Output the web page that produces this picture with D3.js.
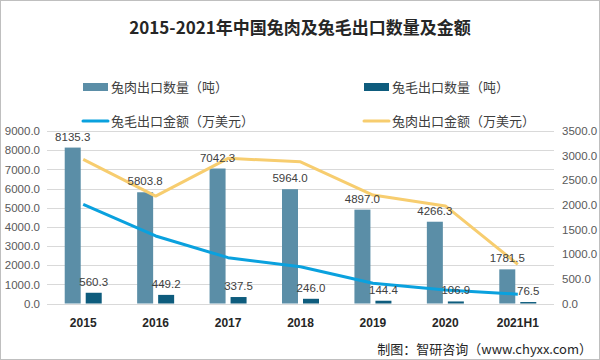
<!DOCTYPE html>
<html><head><meta charset="utf-8">
<script src="https://cdn.jsdelivr.net/npm/d3@7"></script>
<style>body{margin:0;background:#fff}svg{display:block}</style>
</head><body>
<script>
const categories = ["2015","2016","2017","2018","2019","2020","2021H1"];
const meatQty = [8135.3,5803.8,7042.3,5964.0,4897.0,4266.3,1781.5];
const woolQty = [560.3,449.2,337.5,246.0,144.4,106.9,76.5];
const woolAmt = [2010,1370,930,745,410,275,190];
const meatAmt = [2925,2180,2945,2875,2200,1980,795];
const leftTicks = [0,1000,2000,3000,4000,5000,6000,7000,8000,9000];
const rightTicks = [0,500,1000,1500,2000,2500,3000,3500];

const W=600,H=360;
const svg=d3.select("body").append("svg").attr("width",W).attr("height",H);
svg.append("rect").attr("x",0.5).attr("y",0.5).attr("width",W-1).attr("height",H-1).attr("fill","#fff").attr("stroke","#bfbfbf");
const font="'Liberation Sans','Noto Sans CJK SC',sans-serif";

const x=d3.scaleBand().domain(categories).range([47,554]);
const yL=d3.scaleLinear().domain([0,9000]).range([303.5,131]);
const yR=d3.scaleLinear().domain([0,3500]).range([303.5,131]);

svg.append("g").selectAll("line").data(leftTicks).join("line")
 .attr("x1",47).attr("x2",554).attr("y1",d=>Math.round(yL(d))+0.5).attr("y2",d=>Math.round(yL(d))+0.5)
 .attr("stroke","#d9d9d9");

const gl=svg.append("g").attr("transform","translate(40,0)")
 .call(d3.axisLeft(yL).tickValues(leftTicks).tickFormat(d=>d.toFixed(1)).tickSize(0).tickPadding(0));
gl.select(".domain").remove();
gl.selectAll("text").attr("font-family",font).attr("font-size",11.5).attr("fill","#595959");
const gr=svg.append("g").attr("transform","translate(562,0)")
 .call(d3.axisRight(yR).tickValues(rightTicks).tickFormat(d=>d.toFixed(1)).tickSize(0).tickPadding(0));
gr.select(".domain").remove();
gr.selectAll("text").attr("font-family",font).attr("font-size",11.5).attr("fill","#595959");

const gx=svg.append("g").attr("transform","translate(0,312)")
 .call(d3.axisBottom(x).tickSize(0).tickPadding(6));
gx.select(".domain").remove();
gx.selectAll("text").attr("font-family","'Liberation Sans',sans-serif").attr("font-size",12).attr("font-weight","bold").attr("fill","#262626");

const bw=16, gap=5;
const cx=c=>x(c)+x.bandwidth()/2;
svg.append("g").selectAll("rect").data(categories).join("rect")
 .attr("x",c=>cx(c)-gap/2-bw).attr("width",bw)
 .attr("y",(c,i)=>yL(meatQty[i])).attr("height",(c,i)=>yL(0)-yL(meatQty[i])).attr("fill","#5b8ea7");
svg.append("g").selectAll("rect").data(categories).join("rect")
 .attr("x",c=>cx(c)+gap/2).attr("width",bw)
 .attr("y",(c,i)=>yL(woolQty[i])).attr("height",(c,i)=>yL(0)-yL(woolQty[i])).attr("fill","#0e5c7d");

const line=d3.line().x(d=>cx(d.c)).y(d=>yR(d.v));
svg.append("path").datum(categories.map((c,i)=>({c,v:meatAmt[i]}))).attr("d",line)
 .attr("fill","none").attr("stroke","#f7cd6f").attr("stroke-width",3).attr("stroke-linejoin","round");
svg.append("path").datum(categories.map((c,i)=>({c,v:woolAmt[i]}))).attr("d",line)
 .attr("fill","none").attr("stroke","#0aa1de").attr("stroke-width",3).attr("stroke-linejoin","round");

svg.append("g").selectAll("text").data(categories).join("text")
 .attr("x",c=>cx(c)-gap/2-bw/2).attr("y",(c,i)=>yL(meatQty[i])-7)
 .attr("text-anchor","middle").attr("font-family",font).attr("font-size",11.5).attr("fill","#404040")
 .text((c,i)=>meatQty[i].toFixed(1));
svg.append("g").selectAll("text").data(categories).join("text")
 .attr("x",c=>cx(c)+gap/2+bw/2).attr("y",(c,i)=>yL(woolQty[i])-7)
 .attr("text-anchor","middle").attr("font-family",font).attr("font-size",11.5).attr("fill","#404040")
 .text((c,i)=>woolQty[i].toFixed(1));

svg.append("text").attr("x",300).attr("y",34).attr("text-anchor","middle")
 .attr("font-family","'Noto Sans CJK SC',sans-serif").attr("font-weight","bold").attr("font-size",17).attr("fill","#262626")
 .text("2015-2021年中国兔肉及兔毛出口数量及金额");

const leg=[
 {t:"兔肉出口数量（吨）",x:83,y:87,type:"bar",c:"#5b8ea7"},
 {t:"兔毛出口数量（吨）",x:364,y:87,type:"bar",c:"#0e5c7d"},
 {t:"兔毛出口金额（万美元）",x:83,y:121,type:"line",c:"#0aa1de"},
 {t:"兔肉出口金额（万美元）",x:364,y:121,type:"line",c:"#f7cd6f"}];
leg.forEach(l=>{
 if(l.type==="bar") svg.append("rect").attr("x",l.x).attr("y",l.y-4).attr("width",25).attr("height",8).attr("fill",l.c);
 else svg.append("line").attr("x1",l.x).attr("x2",l.x+25).attr("y1",l.y).attr("y2",l.y).attr("stroke",l.c).attr("stroke-width",3).attr("stroke-linecap","round");
 svg.append("text").attr("x",l.x+28).attr("y",l.y+5).attr("font-family","'Noto Sans CJK SC',sans-serif").attr("font-size",13).attr("fill","#404040").text(l.t);
});

svg.append("text").attr("x",592).attr("y",354).attr("text-anchor","end")
 .attr("font-family","'Noto Sans CJK SC',sans-serif").attr("font-size",13).attr("fill","#262626")
 .text("制图：智研咨询（www.chyxx.com）");
</script>
</body></html>
